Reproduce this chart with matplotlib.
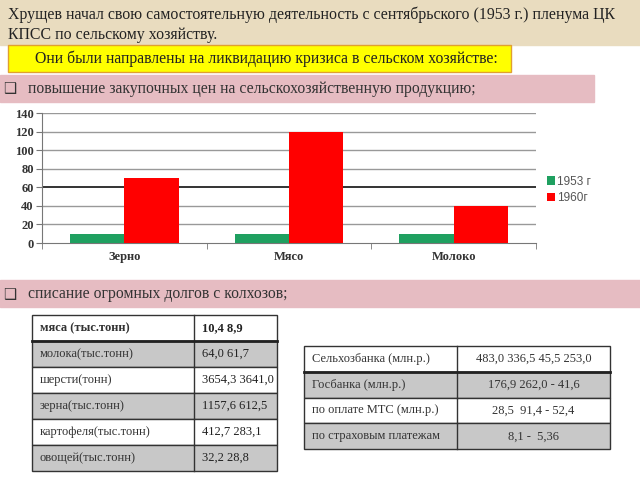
import matplotlib.pyplot as plt
from matplotlib.patches import Rectangle
import numpy as np

# chart data
products = ['Зерно', 'Мясо', 'Молоко']
y1953 = [10, 10, 10]
y1960 = [70, 120, 40]
series_names = ['1953 г', '1960г']

# slide texts
title_lines = ['Хрущев начал свою самостоятельную деятельность с сентябрьского (1953 г.) пленума ЦК',
               'КПСС по сельскому хозяйству.']
yellow_text = 'Они были направлены на ликвидацию кризиса в сельском хозяйстве:'
bullet1 = 'повышение закупочных цен на сельскохозяйственную продукцию;'
bullet2 = 'списание огромных долгов с колхозов;'

# tables
left_names = ['мяса (тыс.тонн)', 'молока(тыс.тонн)', 'шерсти(тонн)',
              'зерна(тыс.тонн)', 'картофеля(тыс.тонн)', 'овощей(тыс.тонн)']
left_vals = ['10,4 8,9', '64,0 61,7', '3654,3 3641,0',
             '1157,6 612,5', '412,7 283,1', '32,2 28,8']
right_names = ['Сельхозбанка (млн.р.)', 'Госбанка (млн.р.)',
               'по оплате МТС (млн.р.)', 'по страховым платежам']
right_vals = ['483,0 336,5 45,5 253,0', '176,9 262,0 - 41,6',
              '28,5  91,4 - 52,4', '8,1 -  5,36']

serif = 'Liberation Serif'
fig = plt.figure(figsize=(6.4, 4.8), dpi=100)

# slide background in pixel coordinates
bg = fig.add_axes([0, 0, 1, 1])
bg.set_xlim(0, 640)
bg.set_ylim(480, 0)
bg.axis('off')

bg.add_patch(Rectangle((0, 0), 640, 45, color='#e9dcbf', zorder=0))
for i, line in enumerate(title_lines):
    bg.text(8, 15 + i * 20, line, fontsize=11.4, family=serif, color='#222222', va='center')

bg.add_patch(Rectangle((8, 45), 503, 27, facecolor='#ffff00', edgecolor='#e0a030', lw=1, zorder=1))
bg.text(35, 59, yellow_text, fontsize=11.3, family=serif, color='#222222', va='center', zorder=2)

for ytop, x1, txt in [(75, 594, bullet1), (280, 640, bullet2)]:
    bg.add_patch(Rectangle((0, ytop), x1, 27, color='#e6bcc2', zorder=1))
    bg.text(3, ytop + 14, '\u2751', fontsize=10.5, family='DejaVu Sans', color='#333333',
            va='center', zorder=2)
    bg.text(28, ytop + 14, txt, fontsize=11.3, family=serif, color='#333333',
            va='center', zorder=2)


def draw_table(x0, xs, x1, ytop, rh, names, vals, center, bold_first):
    for i, (n, v) in enumerate(zip(names, vals)):
        y = ytop + i * rh
        fc = 'white' if i % 2 == 0 else '#c8c8c8'
        bg.add_patch(Rectangle((x0, y), x1 - x0, rh, facecolor=fc, edgecolor='#333333', lw=1, zorder=1))
        bg.plot([xs, xs], [y, y + rh], color='#333333', lw=1, zorder=2)
        w = 'bold' if (bold_first and i == 0) else 'normal'
        bg.text(x0 + 8, y + rh / 2, n, fontsize=9, family=serif, color='#333333',
                va='center', weight=w, zorder=3)
        if center:
            bg.text((xs + x1) / 2, y + rh / 2, v, fontsize=9, family=serif, color='#333333',
                    va='center', ha='center', zorder=3)
        else:
            bg.text(xs + 8, y + rh / 2, v, fontsize=9, family=serif, color='#222222',
                    va='center', weight=w, zorder=3)
    bg.plot([x0, x1], [ytop + rh, ytop + rh], color='#222222', lw=2, zorder=2)


draw_table(32, 194, 277, 315, 26, left_names, left_vals, False, True)
draw_table(304, 457, 610, 346, 25.8, right_names, right_vals, True, False)

# bar chart
ax = fig.add_axes([42 / 640, (480 - 243) / 480, 494 / 640, 130 / 480])
ax.set_facecolor('none')
x = np.arange(len(products))
bw = 0.33
ax.bar(x - bw / 2, y1953, bw, color='#1fa060', label=series_names[0], zorder=3)
ax.bar(x + bw / 2, y1960, bw, color='#ff0000', label=series_names[1], zorder=3)
ax.set_xlim(-0.5, 2.5)
ax.set_ylim(0, 140)
ax.set_yticks(range(0, 141, 20))
for t in range(20, 141, 20):
    ax.axhline(t, color='#111111' if t == 60 else '#999999', lw=1.2 if t == 60 else 1, zorder=1)
ax.set_xticks(x)
ax.set_xticklabels(products, family=serif, fontsize=9, weight='bold', color='#333333')
ax.set_xticks([-0.5, 0.5, 1.5, 2.5], minor=True)
ax.tick_params(axis='x', which='major', length=0, pad=6)
ax.tick_params(axis='x', which='minor', length=4, color='#777777')
ax.tick_params(axis='y', length=4, color='#777777', pad=2)
for lab in ax.get_yticklabels():
    lab.set_family(serif)
    lab.set_fontsize(9)
    lab.set_weight('bold')
    lab.set_color('#333333')
for s in ['top', 'right']:
    ax.spines[s].set_visible(False)
ax.spines['left'].set_color('#777777')
ax.spines['bottom'].set_color('#777777')

ax.legend(loc='center left', bbox_to_anchor=(1.0, 0.41), frameon=False,
          prop={'family': 'Liberation Sans', 'size': 8.5}, labelcolor='#555555',
          handlelength=0.7, handleheight=0.7, handletextpad=0.2, labelspacing=0.35)

fig.savefig('out.png', dpi=100)
